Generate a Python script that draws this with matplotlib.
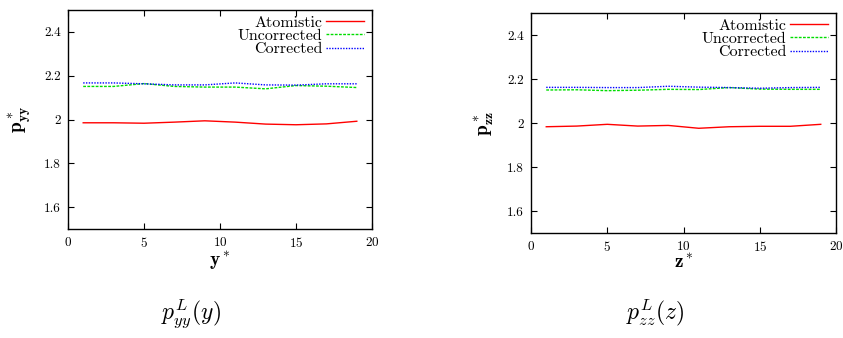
import numpy as np
import matplotlib
matplotlib.use("Agg")
import matplotlib.pyplot as plt

plt.rcParams['font.family'] = ['cmr10', 'DejaVu Serif']
plt.rcParams['mathtext.fontset'] = 'cm'
plt.rcParams['axes.formatter.use_mathtext'] = True

# sample positions (reduced units)
x_pos = [1, 3, 5, 7, 9, 11, 13, 15, 17, 19]

# p_yy(y)
yy_atomistic = [1.985, 1.985, 1.983, 1.988, 1.994, 1.988, 1.979, 1.976, 1.980, 1.992]
yy_uncorrected = [2.151, 2.151, 2.164, 2.151, 2.148, 2.148, 2.140, 2.155, 2.152, 2.146]
yy_corrected = [2.167, 2.167, 2.163, 2.158, 2.158, 2.167, 2.158, 2.157, 2.163, 2.163]

# p_zz(z)
zz_atomistic = [1.983, 1.986, 1.994, 1.986, 1.989, 1.976, 1.983, 1.985, 1.985, 1.994]
zz_uncorrected = [2.150, 2.151, 2.147, 2.149, 2.153, 2.152, 2.161, 2.154, 2.153, 2.153]
zz_corrected = [2.162, 2.162, 2.161, 2.161, 2.167, 2.163, 2.161, 2.158, 2.161, 2.162]

labels = ["Atomistic", "Uncorrected", "Corrected"]
colors = ["#ff0000", "#00dd00", "#0000ff"]
styles = ["-", (0, (2, 1)), (0, (1, 1))]

W, H = 843, 338
fig = plt.figure(figsize=(W / 100, H / 100), dpi=100)


def panel(rect, series, xlab, ylab):
    ax = fig.add_axes(rect)
    for vals, lab, c, ls in zip(series, labels, colors, styles):
        ax.plot(x_pos, vals, color=c, lw=1.0, ls=ls, label=lab)
    ax.set_xlim(0, 20)
    ax.set_ylim(1.5, 2.5)
    ax.set_xticks([0, 5, 10, 15, 20])
    ax.set_yticks([1.6, 1.8, 2.0, 2.2, 2.4])
    ax.set_yticklabels(["1.6", "1.8", "2", "2.2", "2.4"])
    ax.tick_params(direction="in", top=True, right=True, labelsize=9.5,
                   length=4, width=0.8, pad=5)
    for s in ax.spines.values():
        s.set_linewidth(1.0)
    ax.set_xlabel(xlab, fontsize=14, labelpad=0)
    ax.set_ylabel(ylab, fontsize=14, labelpad=8)
    leg = ax.legend(loc="upper right", bbox_to_anchor=(1.0, 1.012),
                    frameon=False, markerfirst=False,
                    fontsize=11.5, handlelength=2.4, handletextpad=0.2,
                    labelspacing=-0.05, borderaxespad=0.1)
    for t in leg.get_texts():
        t.set_ha("right")
    return ax


panel([68 / W, 1 - 229 / H, 304 / W, 219 / H],
      [yy_atomistic, yy_uncorrected, yy_corrected],
      r"$\mathbf{y^*}$", r"$\mathbf{p^*_{yy}}$")
panel([531 / W, 1 - 233 / H, 305 / W, 220 / H],
      [zz_atomistic, zz_uncorrected, zz_corrected],
      r"$\mathbf{z^*}$", r"$\mathbf{p^*_{zz}}$")

fig.text(191 / W, 1 - 320 / H, r"$p^L_{yy}(y)$", ha="center", va="baseline", fontsize=17)
fig.text(655 / W, 1 - 320 / H, r"$p^L_{zz}(z)$", ha="center", va="baseline", fontsize=17)

fig.savefig("out.png", dpi=100)
